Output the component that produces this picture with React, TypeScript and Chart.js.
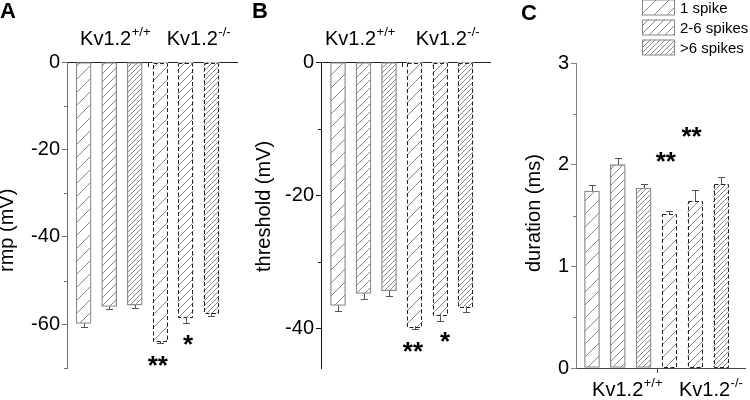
import React, { useEffect, useRef } from "react";
import { Chart, registerables } from "chart.js";
Chart.register(...registerables);

// ---------- data ----------
const GENE = "Kv1.2";
const GENOTYPES = ["+/+", "-/-"];
const SPIKE_CLASSES = ["1 spike", "2-6 spikes", ">6 spikes"];

const RMP_WT = [-59.8, -55.9, -55.6];
const RMP_KO = [-63.8, -58.3, -57.4];
const RMP_ERR_WT = [0.8, 0.7, 0.6];
const RMP_ERR_KO = [0.5, 1.3, 0.7];

const THR_WT = [-36.6, -34.8, -34.4];
const THR_KO = [-39.7, -37.9, -36.7];
const THR_ERR_WT = [0.9, 0.9, 0.85];
const THR_ERR_KO = [0.5, 1.1, 0.9];

const DUR_WT = [1.74, 2.0, 1.77];
const DUR_KO = [1.51, 1.64, 1.805];
const DUR_ERR_WT = [0.06, 0.07, 0.04];
const DUR_ERR_KO = [0.035, 0.11, 0.075];

const RMP_STARS = [
  { text: "**", x: 3.9, y: -68.5 },
  { text: "*", x: 5.09, y: -63.7 },
];
const THR_STARS = [
  { text: "**", x: 3.94, y: -42.9 },
  { text: "*", x: 5.2, y: -41.4 },
];
const DUR_STARS = [
  { text: "**", x: 3.86, y: 2.08 },
  { text: "**", x: 4.86, y: 2.32 },
];

// ---------- styling / layout ----------
const FONT = "'Liberation Sans', Arial, sans-serif";
const W = 250;
const H = 400;

type Star = { text: string; x: number; y: number };
type Panel = {
  letter: string;
  title: string;
  wt: number[];
  ko: number[];
  errWt: number[];
  errKo: number[];
  stars: Star[];
  offset: number;
  area: { left: number; right: number; top: number; bottom: number };
  xMin: number;
  xMax: number;
  yMin: number;
  yMax: number;
  yStep: number;
  yMinor: number;
  axisTop: boolean;
  labelX: number[];
  labelBase: number;
  titleX: number;
  letterPos: [number, number];
  yAxisColor: string;
  xAxisColor: string;
  legend: boolean;
};

const PANELS: Panel[] = [
  {
    letter: "A", title: "rmp (mV)", wt: RMP_WT, ko: RMP_KO, errWt: RMP_ERR_WT, errKo: RMP_ERR_KO,
    stars: RMP_STARS, offset: 0, area: { left: 67, right: 237, top: 62, bottom: 368 },
    xMin: 0.35, xMax: 7.0, yMin: -70, yMax: 0, yStep: 20, yMinor: 10, axisTop: true,
    labelX: [2.23, 5.49], labelBase: 45, titleX: 13, letterPos: [0, 18],
    yAxisColor: "#707070", xAxisColor: "#222", legend: false,
  },
  {
    letter: "B", title: "threshold (mV)", wt: THR_WT, ko: THR_KO, errWt: THR_ERR_WT, errKo: THR_ERR_KO,
    stars: THR_STARS, offset: 250, area: { left: 71, right: 240, top: 62, bottom: 368 },
    xMin: 0.333, xMax: 6.96, yMin: -46, yMax: 0, yStep: 20, yMinor: 10, axisTop: true,
    labelX: [1.86, 5.29], labelBase: 45, titleX: 20, letterPos: [2, 18],
    yAxisColor: "#111", xAxisColor: "#222", legend: false,
  },
  {
    letter: "C", title: "duration (ms)", wt: DUR_WT, ko: DUR_KO, errWt: DUR_ERR_WT, errKo: DUR_ERR_KO,
    stars: DUR_STARS, offset: 500, area: { left: 76, right: 245, top: 63, bottom: 368 },
    xMin: 0.38, xMax: 6.93, yMin: 0, yMax: 3, yStep: 1, yMinor: 0.5, axisTop: false,
    labelX: [2.36, 5.6], labelBase: 396, titleX: 40, letterPos: [21, 20],
    yAxisColor: "#808080", xAxisColor: "#444", legend: true,
  },
];

const HATCH_SPACING = [13, 8, 5];

function makeHatch(s: number): CanvasPattern | string {
  const c = document.createElement("canvas");
  c.width = s;
  c.height = s;
  const g = c.getContext("2d");
  if (!g) return "#fff";
  g.fillStyle = "#fff";
  g.fillRect(0, 0, s, s);
  g.strokeStyle = "#8a8a8a";
  g.lineWidth = 1;
  g.beginPath();
  for (let k = -1; k <= 1; k++) {
    g.moveTo(k * s, s);
    g.lineTo(k * s + s, 0);
  }
  g.stroke();
  return g.createPattern(c, "repeat") || "#fff";
}

function drawGenotype(ctx: CanvasRenderingContext2D, cx: number, base: number, sup: string) {
  ctx.font = `20px ${FONT}`;
  const w1 = ctx.measureText(GENE).width;
  ctx.font = `13px ${FONT}`;
  const w2 = ctx.measureText(sup).width;
  const start = cx - (w1 + w2) / 2;
  ctx.fillStyle = "#000";
  ctx.textAlign = "left";
  ctx.textBaseline = "alphabetic";
  ctx.font = `20px ${FONT}`;
  ctx.fillText(GENE, start, base);
  ctx.font = `13px ${FONT}`;
  ctx.fillText(sup, start + w1 + 0.5, base - 9);
}

function decorPlugin(p: Panel, patterns: (CanvasPattern | string)[]) {
  return {
    id: "decor" + p.letter,
    afterDatasetsDraw(chart: any) {
      const ctx: CanvasRenderingContext2D = chart.ctx;
      const meta = chart.getDatasetMeta(0);
      const ys = chart.scales.y;
      const values = [...p.wt, ...p.ko];
      const errs = [...p.errWt, ...p.errKo];
      ctx.save();
      meta.data.forEach((el: any, i: number) => {
        const { x, y, base, width } = el.getProps(["x", "y", "base", "width"], true);
        if (i >= p.wt.length) {
          ctx.setLineDash([4, 2.5]);
          ctx.strokeStyle = "#222";
          ctx.lineWidth = 1;
          const top = Math.min(y, base);
          const h = Math.abs(y - base);
          ctx.strokeRect(Math.round(x - width / 2) + 0.5, Math.round(top) + 0.5, Math.round(width) - 1, Math.round(h));
        }
        const v = values[i];
        const e = errs[i];
        const end = Math.round(ys.getPixelForValue(v < 0 ? v - e : v + e)) + 0.5;
        ctx.setLineDash([]);
        ctx.strokeStyle = "#555";
        ctx.lineWidth = 1;
        const cx = Math.round(x) + 0.5;
        ctx.beginPath();
        ctx.moveTo(cx, y);
        ctx.lineTo(cx, end);
        ctx.moveTo(cx - 3.5, end);
        ctx.lineTo(cx + 3.5, end);
        ctx.stroke();
      });
      ctx.restore();
    },
    afterDraw(chart: any) {
      const ctx: CanvasRenderingContext2D = chart.ctx;
      const xs = chart.scales.x;
      const ys = chart.scales.y;
      const area = chart.chartArea;
      ctx.save();
      // minor ticks on y
      ctx.strokeStyle = p.yAxisColor;
      ctx.lineWidth = 1;
      ctx.beginPath();
      const n = Math.round((p.yMax - p.yMin) / p.yMinor);
      for (let k = 0; k <= n + 1; k++) {
        const v = p.yMax - k * p.yMinor;
        if (v < p.yMin - 1e-9) break;
        const r = v / p.yStep;
        if (Math.abs(r - Math.round(r)) < 1e-6) continue;
        const py = Math.round(ys.getPixelForValue(v)) + 0.5;
        ctx.moveTo(area.left - 3, py);
        ctx.lineTo(area.left, py);
      }
      ctx.stroke();
      // divider tick between genotypes
      const dx = Math.round(xs.getPixelForValue((p.wt.length + 0.5))) + 0.5;
      ctx.strokeStyle = p.xAxisColor;
      ctx.beginPath();
      if (p.axisTop) {
        ctx.moveTo(dx, area.top);
        ctx.lineTo(dx, area.top + 5);
      } else {
        ctx.moveTo(dx, area.bottom);
        ctx.lineTo(dx, area.bottom + 5);
      }
      ctx.stroke();
      // genotype labels
      GENOTYPES.forEach((g, i) => {
        drawGenotype(ctx, xs.getPixelForValue(p.labelX[i]), p.labelBase, g);
      });
      // significance stars
      ctx.fillStyle = "#000";
      ctx.font = `bold 26px ${FONT}`;
      ctx.textAlign = "center";
      ctx.textBaseline = "alphabetic";
      p.stars.forEach((s) => {
        const m = ctx.measureText(s.text);
        const inkCenter = (-m.actualBoundingBoxAscent + m.actualBoundingBoxDescent) / 2;
        ctx.fillText(s.text, xs.getPixelForValue(s.x), ys.getPixelForValue(s.y) - inkCenter);
      });
      // y title
      ctx.save();
      ctx.translate(p.titleX, 272);
      ctx.rotate(-Math.PI / 2);
      ctx.font = `20px ${FONT}`;
      ctx.textAlign = "left";
      ctx.textBaseline = "alphabetic";
      ctx.fillText(p.title, 0, 0);
      ctx.restore();
      // panel letter
      ctx.font = `bold 22px ${FONT}`;
      ctx.textAlign = "left";
      ctx.textBaseline = "alphabetic";
      ctx.fillText(p.letter, p.letterPos[0], p.letterPos[1]);
      // legend
      if (p.legend) {
        SPIKE_CLASSES.forEach((label, i) => {
          const top = -0.5 + i * 20;
          ctx.fillStyle = patterns[i] as any;
          ctx.fillRect(142, top, 32, 15.5);
          ctx.strokeStyle = "#888";
          ctx.lineWidth = 1;
          ctx.strokeRect(142.5, top + 0.5, 32, 15);
          ctx.fillStyle = "#000";
          ctx.font = `15px ${FONT}`;
          ctx.textAlign = "left";
          ctx.fillText(label, 180, 13 + i * 20);
        });
      }
      ctx.restore();
    },
  };
}

function PanelChart({ p }: { p: Panel }) {
  const ref = useRef<HTMLCanvasElement>(null);
  useEffect(() => {
    const canvas = ref.current;
    if (!canvas) return;
    const patterns = HATCH_SPACING.map((s) => makeHatch(s));
    const values = [...p.wt, ...p.ko];
    const nWt = p.wt.length;
    const chart = new Chart(canvas, {
      type: "bar",
      data: {
        datasets: [
          {
            label: p.title,
            data: values.map((v, i) => ({ x: i + 1, y: v })),
            backgroundColor: (c: any) => patterns[c.dataIndex % SPIKE_CLASSES.length] as any,
            borderColor: "#8c8c8c",
            borderWidth: (c: any) => (c.dataIndex < nWt ? 1.3 : 0),
            borderSkipped: false,
            barThickness: 15,
          } as any,
        ],
      },
      options: {
        responsive: false,
        animation: false,
        events: [],
        layout: {
          padding: {
            left: 0,
            right: W - p.area.right,
            top: p.area.top,
            bottom: H - p.area.bottom,
          },
        },
        plugins: { legend: { display: false }, tooltip: { enabled: false } },
        scales: {
          x: {
            type: "linear",
            position: p.axisTop ? "top" : "bottom",
            min: p.xMin,
            max: p.xMax,
            offset: false,
            ticks: { display: false },
            grid: { display: false },
            border: { display: true, color: p.xAxisColor, width: 1 },
            afterFit: (s: any) => {
              s.height = 0;
            },
          },
          y: {
            type: "linear",
            min: p.yMin,
            max: p.yMax,
            ticks: {
              stepSize: p.yStep,
              includeBounds: false,
              color: "#000",
              padding: 2,
              font: { size: 20, family: FONT },
            },
            grid: { display: true, drawOnChartArea: false, drawTicks: true, tickLength: 5, color: p.yAxisColor },
            border: { display: true, color: p.yAxisColor, width: 1 },
            afterFit: (s: any) => {
              s.width = p.area.left;
            },
          },
        } as any,
      },
      plugins: [decorPlugin(p, patterns)],
    } as any);
    return () => chart.destroy();
  }, [p]);
  return (
    <canvas
      ref={ref}
      width={W}
      height={H}
      style={{ position: "absolute", left: p.offset, top: 0, width: W, height: H }}
    />
  );
}

export default function App() {
  return (
    <div
      style={{
        position: "absolute",
        left: 0,
        top: 0,
        width: 750,
        height: 400,
        background: "#fff",
        overflow: "hidden",
      }}
    >
      {PANELS.map((p) => (
        <PanelChart key={p.letter} p={p} />
      ))}
    </div>
  );
}
